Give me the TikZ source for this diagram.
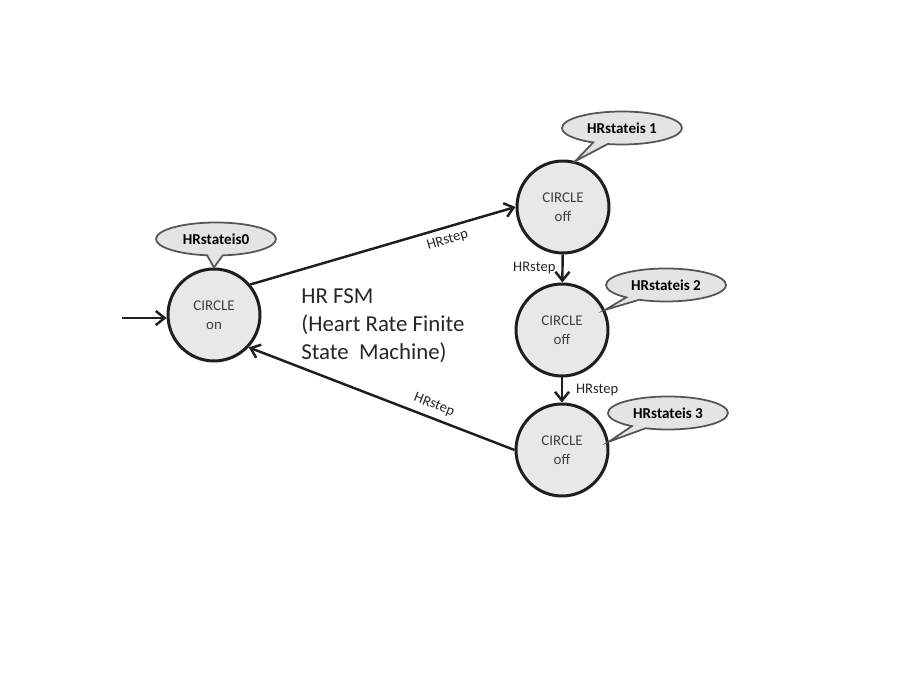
\documentclass[tikz,border=0pt]{standalone}
\usepackage{fontspec}
\setmainfont{Carlito}
\usetikzlibrary{arrows.meta, shapes.callouts, positioning}
\definecolor{stateGray}{RGB}{232, 232, 232}
\definecolor{bubbleGray}{RGB}{228, 228, 228}
\definecolor{edgeDark}{RGB}{30, 30, 30}
\definecolor{bubbleEdge}{RGB}{85, 85, 85}

\begin{document}
\begin{tikzpicture}[
    x=0.02cm, y=-0.02cm,
    % State styles
    state/.style={
        circle,
        minimum size=1.84cm,
        inner sep=0pt,
        draw=edgeDark,
        fill=stateGray,
        line width=1.7pt,
        align=center,
        text=black!75,
        font=\fontsize{8.5}{10.8}\selectfont
    },
    % Speech bubble style (pointer given as argument)
    bubble/.style={
        ellipse callout,
        callout absolute pointer={#1},
        minimum width=2.4cm,
        minimum height=0.66cm,
        inner sep=0pt,
        draw=bubbleEdge,
        fill=bubbleGray,
        line width=1pt,
        font=\fontsize{8.6}{9}\selectfont\bfseries
    },
    % Transition style
    trans/.style={
        -{Straight Barb[length=5pt,width=8pt]},
        line width=1.4pt,
        draw=edgeDark
    },
    % Transition labels
    steplabel/.style={
        font=\fontsize{8.3}{9}\selectfont,
        text=black!85
    }
]
\useasboundingbox (0,0) rectangle (913,688);

% ============================================
% STATES
% ============================================
\node[state] (on) at (214,315) {CIRCLE\\on};
\node[state] (s1) at (563,207) {CIRCLE\\off};
\node[state] (s2) at (562,330) {CIRCLE\\off};
\node[state] (s3) at (562,450) {CIRCLE\\off};

% ============================================
% STATE BUBBLES
% ============================================
\node[bubble={(on.north)}] (b0) at (216,239) {HRstateis0};
\node[bubble={(s1.75)}] (b1) at (622,128) {HRstateis 1};
\node[bubble={(s2.25)}] (b2) at (666,285) {HRstateis 2};
\node[bubble={(s3.10)}] (b3) at (668,413) {HRstateis 3};

% ============================================
% CAPTION
% ============================================
\node[anchor=north west, inner sep=0pt, align=left, text=black!85,
      font=\fontsize{13}{16}\selectfont] (title) at (301,288)
    {HR FSM\\(Heart Rate Finite\\State~ Machine)};

% ============================================
% TRANSITIONS
% ============================================
\coordinate (start) at (122,318);
\draw[trans] (start) -- (start -| on.west);

% on -> first off
\draw[trans] (on.40) -- (s1.west)
    node[steplabel, pos=0.73, sloped, below] {HRstep};

% down the chain
\draw[trans] (s1) -- (s2)
    node[steplabel, midway, left] {HRstep};
\draw[trans] (s2) -- (s3)
    node[steplabel, midway, right, xshift=4pt] {HRstep};

% back to on
\draw[trans] (s3.west) -- (on.-43)
    node[steplabel, pos=0.32, sloped, above] {HRstep};

\end{tikzpicture}
\end{document}
